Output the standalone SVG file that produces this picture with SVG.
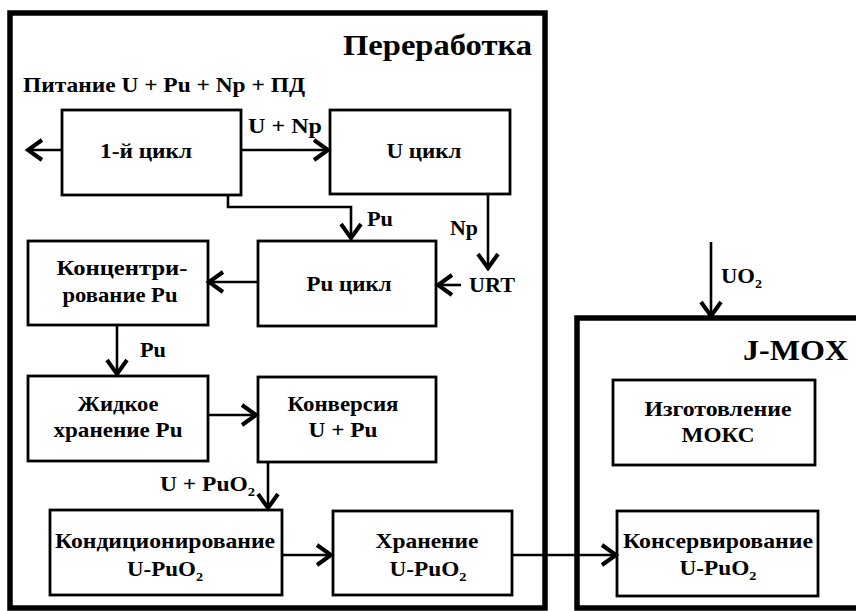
<svg xmlns="http://www.w3.org/2000/svg" width="856" height="611" viewBox="0 0 856 611">
  <style>
    .frame { fill: none; stroke: #000; stroke-width: 5.5; }
    .box { fill: #fff; stroke: #000; stroke-width: 2.8; }
    .line { fill: none; stroke: #000; stroke-width: 2.6; }
    .head { fill: none; stroke: #000; stroke-width: 4; stroke-linejoin: miter; }
    text { font-family: "Liberation Serif", "Times New Roman", serif; font-weight: 700; fill: #000; }
    .t { font-size: 21px; text-anchor: middle; }
    .lbl { font-size: 21px; }
    .title { font-size: 30px; }
    .sub { font-size: 13px; }
  </style>
  <defs>
    <!-- open chevron arrowheads, tip at the origin -->
    <polyline id="hR" class="head" points="-14,-10 0,0 -14,10"/>
    <polyline id="hL" class="head" points="14,-10 0,0 14,10"/>
    <polyline id="hD" class="head" points="-10,-14 0,0 10,-14"/>
  </defs>

  <rect width="856" height="611" fill="#fff"/>

  <!-- Reprocessing plant frame -->
  <g id="pererabotka">
    <rect class="frame" x="10" y="13" width="535" height="595"/>
    <text class="title" x="343" y="55" textLength="189" lengthAdjust="spacingAndGlyphs">Переработка</text>
    <text class="lbl" x="23" y="92" font-size="22" textLength="282" lengthAdjust="spacingAndGlyphs">Питание U + Pu + Np + ПД</text>
  </g>

  <!-- J-MOX plant frame -->
  <g id="jmox">
    <rect class="frame" x="577" y="318" width="285" height="290"/>
    <text class="title" x="743" y="360" textLength="105" lengthAdjust="spacingAndGlyphs">J-MOX</text>
  </g>

  <g id="cycle1">
    <rect class="box" x="62" y="110" width="179" height="85"/>
    <text class="t" x="146" y="158" textLength="92" lengthAdjust="spacingAndGlyphs">1-й цикл</text>
  </g>
  <g id="ucycle">
    <rect class="box" x="330" y="110" width="180" height="84"/>
    <text class="t" x="424" y="158" textLength="75" lengthAdjust="spacingAndGlyphs">U цикл</text>
  </g>
  <g id="pucycle">
    <rect class="box" x="258" y="241" width="178" height="85"/>
    <text class="t" x="349" y="291" textLength="85" lengthAdjust="spacingAndGlyphs">Pu цикл</text>
  </g>
  <g id="concentration">
    <rect class="box" x="28" y="241" width="180" height="84"/>
    <text class="t" x="122" y="275" textLength="131" lengthAdjust="spacingAndGlyphs">Концентри-</text>
    <text class="t" x="120" y="302" textLength="115" lengthAdjust="spacingAndGlyphs">рование Pu</text>
  </g>
  <g id="liquid-storage">
    <rect class="box" x="28" y="376" width="180" height="85"/>
    <text class="t" x="118" y="411" textLength="81" lengthAdjust="spacingAndGlyphs">Жидкое</text>
    <text class="t" x="118" y="437" textLength="129" lengthAdjust="spacingAndGlyphs">хранение Pu</text>
  </g>
  <g id="conversion">
    <rect class="box" x="258" y="377" width="178" height="85"/>
    <text class="t" x="343" y="411" textLength="111" lengthAdjust="spacingAndGlyphs">Конверсия</text>
    <text class="t" x="343" y="437" textLength="69" lengthAdjust="spacingAndGlyphs">U + Pu</text>
  </g>
  <g id="conditioning">
    <rect class="box" x="50" y="510" width="232" height="85"/>
    <text class="t" x="165" y="548" textLength="220" lengthAdjust="spacingAndGlyphs">Кондиционирование</text>
    <text class="t" x="165" y="576" textLength="76" lengthAdjust="spacingAndGlyphs">U-PuO<tspan class="sub" dy="5">2</tspan></text>
  </g>
  <g id="storage">
    <rect class="box" x="333" y="511" width="179" height="84"/>
    <text class="t" x="427" y="548" textLength="103" lengthAdjust="spacingAndGlyphs">Хранение</text>
    <text class="t" x="428" y="576" textLength="77" lengthAdjust="spacingAndGlyphs">U-PuO<tspan class="sub" dy="5">2</tspan></text>
  </g>
  <g id="mox-fabrication">
    <rect class="box" x="613" y="380" width="202" height="85"/>
    <text class="t" x="718" y="416" textLength="147" lengthAdjust="spacingAndGlyphs">Изготовление</text>
    <text class="t" x="718" y="442" textLength="73" lengthAdjust="spacingAndGlyphs">МОКС</text>
  </g>
  <g id="preservation">
    <rect class="box" x="617" y="511" width="201" height="85"/>
    <text class="t" x="718" y="548" textLength="190" lengthAdjust="spacingAndGlyphs">Консервирование</text>
    <text class="t" x="718" y="575" textLength="77" lengthAdjust="spacingAndGlyphs">U-PuO<tspan class="sub" dy="5">2</tspan></text>
  </g>

  <!-- Flows between the process steps -->
  <g id="connectors">
    <line class="line" x1="62" y1="150" x2="29" y2="150"/>
    <use href="#hL" x="28" y="150"/>
    <line class="line" x1="241" y1="150" x2="327" y2="150"/>
    <use href="#hR" x="328" y="150"/>
    <text class="lbl" x="248" y="133" textLength="74" lengthAdjust="spacingAndGlyphs">U + Np</text>

    <polyline class="line" points="228,195 228,207 351,207 351,237"/>
    <use href="#hD" x="351" y="238"/>
    <text class="lbl" x="367" y="226" textLength="26" lengthAdjust="spacingAndGlyphs">Pu</text>

    <line class="line" x1="488" y1="194" x2="488" y2="267"/>
    <use href="#hD" x="488" y="268"/>
    <text class="lbl" x="450" y="235" textLength="28" lengthAdjust="spacingAndGlyphs">Np</text>

    <line class="line" x1="461" y1="285" x2="440" y2="285"/>
    <use href="#hL" x="438" y="285"/>
    <text class="lbl" x="469" y="292" textLength="46" lengthAdjust="spacingAndGlyphs">URT</text>

    <line class="line" x1="258" y1="282" x2="211" y2="282"/>
    <use href="#hL" x="209" y="282"/>

    <line class="line" x1="117" y1="325" x2="117" y2="372"/>
    <use href="#hD" x="117" y="374"/>
    <text class="lbl" x="140" y="357" textLength="26" lengthAdjust="spacingAndGlyphs">Pu</text>

    <line class="line" x1="208" y1="415" x2="254" y2="415"/>
    <use href="#hR" x="256" y="415"/>

    <line class="line" x1="268" y1="462" x2="268" y2="506"/>
    <use href="#hD" x="268" y="508"/>
    <text class="lbl" x="160" y="491" textLength="95" lengthAdjust="spacingAndGlyphs">U + PuO<tspan class="sub" dy="5">2</tspan></text>

    <line class="line" x1="282" y1="555" x2="329" y2="555"/>
    <use href="#hR" x="331" y="555"/>

    <line class="line" x1="512" y1="555" x2="614" y2="555"/>
    <use href="#hR" x="616" y="555"/>

    <line class="line" x1="711" y1="242" x2="711" y2="314"/>
    <use href="#hD" x="711" y="316"/>
    <text class="lbl" x="721" y="283" textLength="41" lengthAdjust="spacingAndGlyphs">UO<tspan class="sub" dy="5">2</tspan></text>
  </g>
</svg>
